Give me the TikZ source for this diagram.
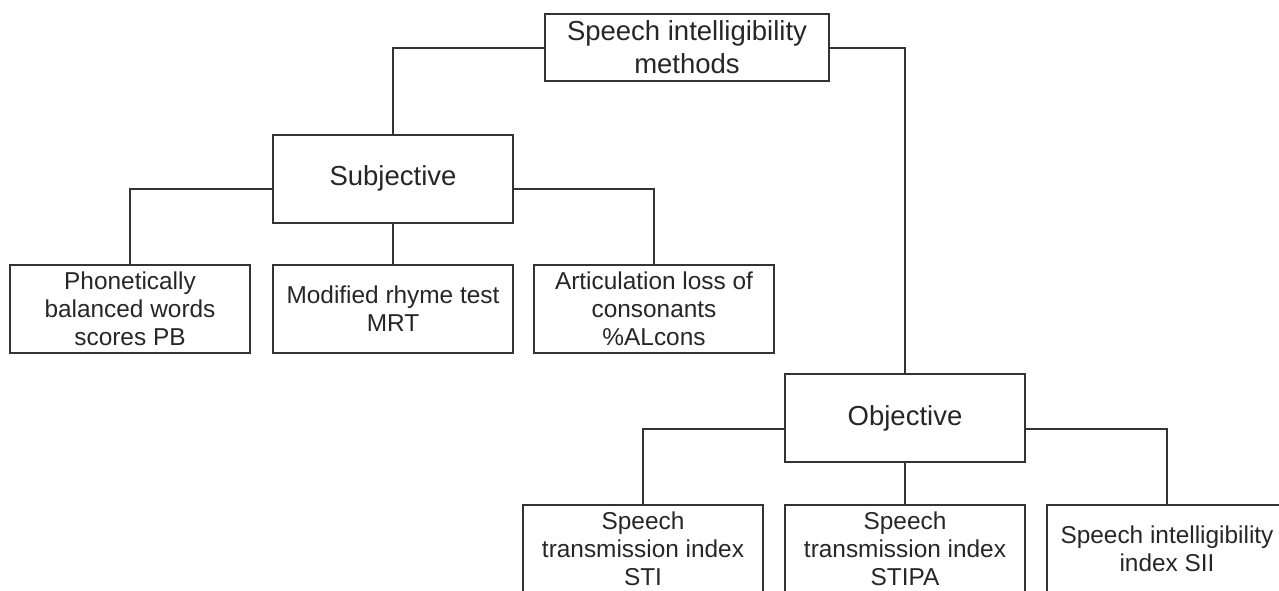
\documentclass[tikz,border=0pt]{standalone}
\usepackage{fontspec}
\setmainfont{Liberation Sans}

\begin{document}
\begin{tikzpicture}
  [
  x=0.5pt, y=-0.5pt, line width=1pt, draw=black!80, text=black!85,
  topnode/.style={rectangle, inner sep = 0pt, minimum width = 142pt, minimum height = 33.5pt, draw=black!80, align=center, font=\fontsize{13.75}{16.5}\selectfont},
  groupnode/.style={rectangle, inner sep = 0pt, minimum width = 120pt, minimum height = 44pt, draw=black!80, font=\fontsize{13.75}{16.5}\selectfont},
  methodnode/.style={rectangle, inner sep = 0pt, minimum width = 120pt, minimum height = 44pt, draw=black!80, align=center, font=\fontsize{12.2}{14}\selectfont},
  ]

  \useasboundingbox (0,0) rectangle (1279,590);
  \clip (0,0) rectangle (1279,590);

  \node[topnode] (sim) at (687,47.5) {Speech intelligibility\\methods};

  \node[groupnode] (subj) at (393,178.5) {Subjective};
  \node[methodnode] (pb) at (130,309) {Phonetically\\balanced words\\scores PB};
  \node[methodnode] (mrt) at (393,309) {Modified rhyme test\\MRT};
  \node[methodnode] (alcons) at (654,309) {Articulation loss of\\consonants\\\%ALcons};

  \node[groupnode] (obj) at (905,418) {Objective};
  \node[methodnode] (sti) at (643,549) {Speech\\transmission index\\STI};
  \node[methodnode] (stipa) at (905,549) {Speech\\transmission index\\STIPA};
  \node[methodnode] (sii) at (1167,549) {Speech intelligibility\\index SII};

  \draw (sim.west) -| (subj.north);
  \draw (sim.east) -| (obj.north);

  \draw ([yshift=-5.25pt]subj.west) -| (pb.north);
  \draw (subj.south) -- (mrt.north);
  \draw ([yshift=-5.25pt]subj.east) -| (alcons.north);

  \draw ([yshift=-5.5pt]obj.west) -| (sti.north);
  \draw (obj.south) -- (stipa.north);
  \draw ([yshift=-5.5pt]obj.east) -| (sii.north);

\end{tikzpicture}
\end{document}
